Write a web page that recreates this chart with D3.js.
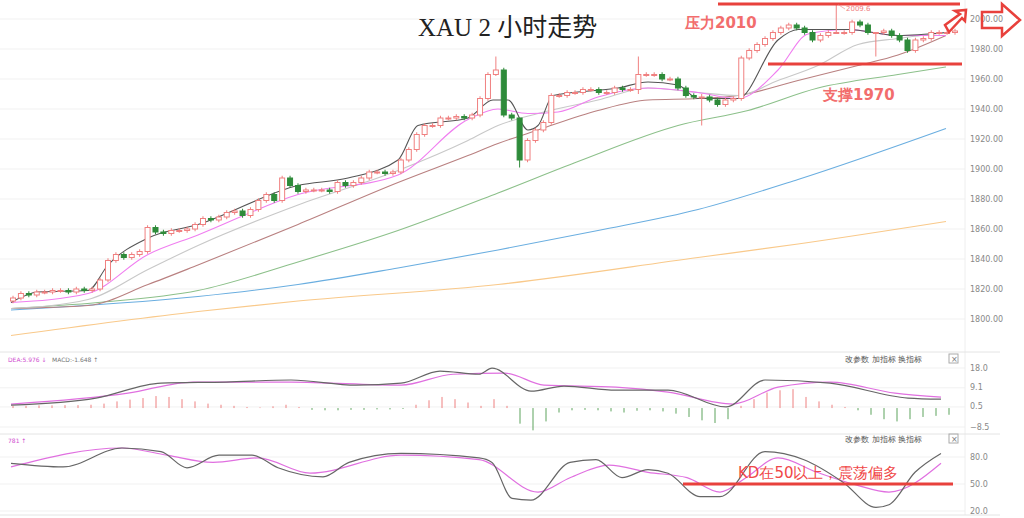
<!DOCTYPE html>
<html><head><meta charset="utf-8">
<script src="https://cdn.jsdelivr.net/npm/d3@7/dist/d3.min.js"></script>
<style>body{margin:0;background:#fff}svg{display:block}</style>
</head><body>
<div id="chart"></div>
<script>
// 2h closes
const closes = [1814,1817,1816,1818,1818,1819,1819,1818,1820,1819,1820,
	1826,1839,1843,1841,1843,1845,
	1861,1858,1857,1859,1859,1860,
	1863,1867,1866,1868,1871,1872,
	1869,1873,1879,1883,1879,
	1894,1889,1885,1886,1886,1886,
	1885,1891,1889,1891,1894,1898,
	1898,1897,1898,1906,1913,1923,
	1929,1929,1934,1934,1935,
	1934,1936,1947,1963,1966,
	1936,1934,1906,1919,1926,1931,
	1949,1949,1951,1951,1953,
	1953,1951,1951,1954,1953,
	1953,1963,1963,1963,1960,
	1960,1954,1949,1948,1948,
	1946,1943,1946,1947,1974,
	1979,1983,1987,1991,1994,1996,1994,1991,1986,1989,
	1991,1991,1991,1998,1996,1991,1991,1992,1989,1986,
	1979,1986,1987,1991,1991,1991,1992];
// notable wicks: [candle index, high, low]
const spikes = [[61,1975,1962],[64,1934,1901],[104,2009.6,1990],[79,1975,1950],[87,1950,1929],[109,1990,1975]];

// moving averages: [t, price]
const ma5 = [[0,1811],[27,1818],[77,1819],[97,1836],[137,1854],[187,1863],[287,1889],[337,1894],[387,1906],[407,1929],[457,1934],[482,1946],[497,1946],[517,1926],[527,1929],[542,1949],[607,1954],[637,1958],[667,1956],[687,1947],[727,1947],[767,1986],[787,1993],[837,1993],[887,1989],[935,1991]];
const ma10 = [[0,1811],[77,1817],[137,1843],[187,1856],[287,1883],[387,1896],[457,1933],[487,1940],[517,1937],[547,1938],[587,1948],[637,1954],[687,1951],[727,1947],[767,1966],[797,1990],[837,1993],[887,1989],[935,1989]];
const ma20 = [[0,1807],[77,1813],[137,1833],[187,1849],[287,1876],[387,1899],[457,1919],[487,1929],[527,1937],[587,1946],[637,1954],[687,1951],[727,1949],[767,1959],[807,1969],[847,1983],[887,1987],[935,1991]];
const ma30 = [[0,1807],[77,1809],[137,1823],[187,1836],[287,1863],[387,1891],[457,1909],[487,1917],[527,1926],[587,1939],[637,1946],[687,1947],[727,1949],[787,1959],[847,1969],[887,1976],[935,1989]];
const ma60 = [[0,1807],[87,1811],[187,1819],[287,1838],[387,1859],[487,1884],[567,1905],[667,1929],[737,1939],[807,1954],[887,1963],[935,1968]];
const ma120 = [[0,1806],[187,1815],[287,1823],[387,1834],[487,1846],[587,1859],[687,1873],[787,1893],[935,1927]];
const ma250 = [[0,1789],[187,1805],[287,1812],[487,1823],[687,1841],[787,1850],[935,1865]];
const priceTicks = [2000,1980,1960,1940,1920,1900,1880,1860,1840,1820,1800];

// MACD panel
const dif = [[0,1.3],[85,4.5],[150,11.2],[215,11.7],[280,12.6],[345,10.3],[390,11.2],[429,16.6],[468,15.2],[481,17.9],[520,7.6],[553,9.9],[605,8.1],[657,8.1],[715,0.5],[754,12.6],[819,11.2],[897,4.5],[930,4]];
const dea = [[0,1.8],[117,6.7],[182,11.7],[280,11.7],[390,10.3],[442,15.2],[494,15.7],[533,10.3],[605,9.4],[657,7.2],[722,1.8],[767,9.4],[819,11.7],[884,6.7],[930,4.9]];
const hist = [1,1,1.2,1.2,1.3,1.3,1.5,2,3,3.8,4.5,5.4,5,4,3,2,1.5,1,0.5,0.3,0.8,1.5,0.5,-0.8,-1,-1,-0.8,-0.8,-0.6,-0.6,-0.4,1.5,3.5,5,4,2.5,1,4,1,-7,-10,-6,-2,-1,-0.8,-1,-1.5,-2,-1.2,-1,-1.5,-2.5,-4,-5.5,-6.7,-5,1,4,7,8,8.5,5,3,1.5,0.5,-1,-3,-5,-6,-5,-4,-3.5,-3];
const macdTicks = [18.0,9.1,0.5,-8.5];

// KD panel
const kLine = [[0,73],[52,69],[111,90],[150,86],[176,68],[208,82],[241,82],[267,68],[312,58],[338,74],[390,84],[468,79],[481,74],[501,34],[520,32],[559,74],[585,77],[611,57],[637,66],[657,62],[689,36],[709,36],[754,86],[793,77],[832,52],[865,24],[878,27],[904,63],[930,84]];
const dLine = [[0,69],[111,90],[156,82],[202,74],[247,79],[299,62],[390,82],[468,77],[527,41],[559,57],[598,71],[637,63],[676,57],[709,41],[735,57],[767,79],[806,63],[845,49],[878,41],[930,73]];
const kdTicks = [80.0,50.0,20.0];

const W = 1024, H = 518;
const svg = d3.select("#chart").append("svg").attr("width", W).attr("height", H)
	.style("font-family", "'DejaVu Sans', sans-serif");

const xT = d3.scaleLinear().domain([0, 940]).range([11, 951]);
const xC = d3.scaleLinear().domain([0, closes.length - 1]).range([13, 955]);
const yP = d3.scaleLinear().domain([1800, 2000]).range([319, 19]);
const yM = d3.scaleLinear().domain([-8.5, 18]).range([427, 368]);
const yK = d3.scaleLinear().domain([20, 80]).range([511, 457]);

// grid + right axis labels
function grid(ticks, scale, fmt){
	ticks.forEach(function(t){
		svg.append("line").attr("x1", 0).attr("x2", 965).attr("y1", scale(t)).attr("y2", scale(t))
			.attr("stroke", "#f1f1f1");
		svg.append("text").attr("x", 970).attr("y", scale(t)).attr("dominant-baseline", "central")
			.style("font-size", "8px").style("fill", "#888").text(fmt(t));
	});
}
grid(priceTicks, yP, d3.format(".2f"));
grid(macdTicks, yM, d3.format(".1f"));
grid(kdTicks, yK, d3.format(".1f"));
svg.append("line").attr("x1", 965).attr("x2", 965).attr("y1", 0).attr("y2", 515).attr("stroke", "#eee");
[352, 434, 515].forEach(function(y){
	svg.append("line").attr("x1", 0).attr("x2", 1000).attr("y1", y).attr("y2", y).attr("stroke", "#e4e4e4");
});

// moving averages
const lineT = function(sy){ return d3.line().x(d => xT(d[0])).y(d => sy(d[1])).curve(d3.curveMonotoneX); };
[[ma250,"#f9c98a"],[ma120,"#6aaee0"],[ma60,"#8cc08a"],[ma30,"#b98080"],[ma20,"#c8c8c8"],[ma10,"#f07ef0"],[ma5,"#555"]].forEach(function(m){
	svg.append("path").attr("d", lineT(yP)(m[0])).attr("fill", "none").attr("stroke", m[1]).attr("stroke-width", 1.1);
});

// candles
const upCol = "#f08080", dnCol = "#2e8b3a", bw = 5;
closes.forEach(function(c, i){
	const o = i === 0 ? c - 2 : closes[i - 1];
	let hi = Math.max(o, c) + 1.5, lo = Math.min(o, c) - 1.5;
	spikes.forEach(function(s){ if(s[0] === i){ hi = s[1]; lo = s[2]; } });
	const up = c >= o, col = up ? upCol : dnCol, x = xC(i);
	svg.append("line").attr("x1", x).attr("x2", x).attr("y1", yP(hi)).attr("y2", yP(lo)).attr("stroke", col);
	svg.append("rect").attr("x", x - bw/2).attr("width", bw)
		.attr("y", yP(Math.max(o, c))).attr("height", Math.max(1, Math.abs(yP(o) - yP(c))))
		.attr("fill", up ? "#fff" : dnCol).attr("stroke", col);
});

// pressure / support
const red = "#e8413c";
svg.append("line").attr("x1", 718).attr("x2", 960).attr("y1", yP(2010)).attr("y2", yP(2010)).attr("stroke", red).attr("stroke-width", 3);
svg.append("line").attr("x1", 768).attr("x2", 962).attr("y1", yP(1970)).attr("y2", yP(1970)).attr("stroke", red).attr("stroke-width", 3);
svg.append("text").attr("x", 685).attr("y", 28).style("font-size", "15px").style("font-weight", "bold").style("fill", "#f26d6d").text("压力2010");
svg.append("text").attr("x", 823).attr("y", 100).style("font-size", "15px").style("font-weight", "bold").style("fill", "#f26d6d").text("支撑1970");
svg.append("line").attr("x1", xC(104) + 2).attr("x2", 845).attr("y1", yP(2009.6)).attr("y2", 9).attr("stroke", "#f08080").attr("stroke-width", 0.6);
svg.append("text").attr("x", 846).attr("y", 11).style("font-size", "7px").style("fill", "#f08080").text("2009.6");

// title
svg.append("text").attr("x", 418).attr("y", 36).style("font-family", "'Liberation Serif', 'Noto Sans CJK SC', serif").style("font-size", "25px").style("fill", "#222").text("XAU 2 小时走势");

// arrows (outlined)
svg.append("path").attr("d", "M982,12 L1002,12 L1002,4 L1020,20 L1002,36 L1002,28 L982,28 Z").attr("fill", "none").attr("stroke", red).attr("stroke-width", 2.5);
svg.append("path").attr("d", "M945,25 L960,14 L955,11 L966,10 L965,21 L962,18 L949,32 Z").attr("fill", "none").attr("stroke", red).attr("stroke-width", 2.5);

// MACD
const hx = d3.scaleLinear().domain([0, hist.length - 1]).range([13, 949]);
hist.forEach(function(v, i){
	svg.append("line").attr("x1", hx(i)).attr("x2", hx(i)).attr("y1", yM(0)).attr("y2", yM(v))
		.attr("stroke", v >= 0 ? "#ee8080" : "#5da35d").attr("stroke-width", 1);
});
svg.append("path").attr("d", lineT(yM)(dea)).attr("fill", "none").attr("stroke", "#e070e0").attr("stroke-width", 1.2);
svg.append("path").attr("d", lineT(yM)(dif)).attr("fill", "none").attr("stroke", "#666").attr("stroke-width", 1.2);
svg.append("text").attr("x", 8).attr("y", 362).style("font-size", "6px").style("fill", "#d04fd0").text("DEA:5.976 ↓");
svg.append("text").attr("x", 52).attr("y", 362).style("font-size", "6px").style("fill", "#777").text("MACD:-1.648 ↑");

// KD
svg.append("path").attr("d", lineT(yK)(dLine)).attr("fill", "none").attr("stroke", "#e070e0").attr("stroke-width", 1.2);
svg.append("path").attr("d", lineT(yK)(kLine)).attr("fill", "none").attr("stroke", "#666").attr("stroke-width", 1.2);
svg.append("text").attr("x", 8).attr("y", 443).style("font-size", "6px").style("fill", "#d04fd0").text("781 ↑");
svg.append("line").attr("x1", 683).attr("x2", 953).attr("y1", yK(50)).attr("y2", yK(50)).attr("stroke", red).attr("stroke-width", 3);
svg.append("text").attr("x", 738).attr("y", 478).style("font-size", "15px").style("fill", "#f04848").text("KD在50以上，震荡偏多");

// panel buttons
[362, 442].forEach(function(y){
	svg.append("text").attr("x", 845).attr("y", y).style("font-size", "8px").style("fill", "#555").text("改参数  加指标  换指标");
	svg.append("rect").attr("x", 949).attr("y", y - 8).attr("width", 9).attr("height", 9).attr("fill", "none").attr("stroke", "#aaa");
	svg.append("text").attr("x", 951).attr("y", y).style("font-size", "8px").style("fill", "#777").text("×");
});
</script>
</body></html>
